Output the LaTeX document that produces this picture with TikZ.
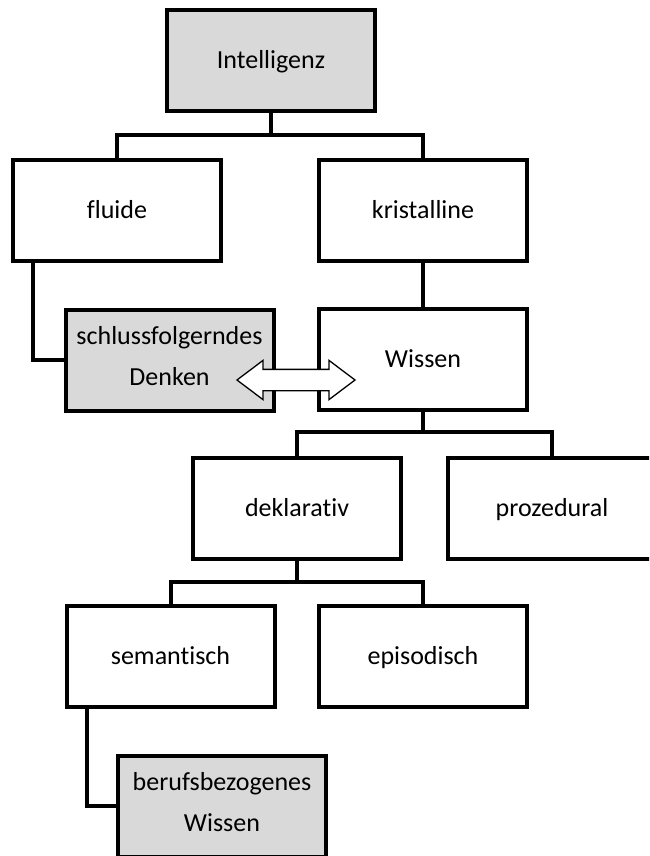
\documentclass[tikz,border=0pt]{standalone}
\usepackage{fontspec}
\setmainfont{Carlito}[Ligatures=NoCommon]
\usetikzlibrary{shapes.arrows}
\definecolor{boxgray}{HTML}{D9D9D9}
\newcommand\boxstrut{\rule[-9pt]{0pt}{34pt}}
\begin{document}
\begin{tikzpicture}[x=1pt,y=-1pt,
  box/.style={draw, line width=4pt, minimum width=208pt, minimum height=101pt,
    inner sep=0pt, align=center, font=\fontsize{26}{41}\selectfont, fill=white,
    execute at begin node=\boxstrut, execute at end node=\boxstrut},
  gbox/.style={box, fill=boxgray},
  link/.style={line width=4pt, line join=miter},
  dblarrow/.style={double arrow, draw, fill=white, line width=1.3pt,
    minimum height=118pt, double arrow head extend=9pt,
    double arrow tip angle=74, inner sep=10pt}
]
\clip (0,0) rectangle (649,856);
\fill[white] (0,0) rectangle (649,856);
% nodes
\node[gbox] (int) at (271,61) {Intelligenz};
\node[box] (fl) at (117,210) {fluide};
\node[box] (kr) at (423,210) {kristalline};
\node[gbox] (sf) at (169.5,360) {schlussfolgerndes\\Denken};
\node[box] (wi) at (423,359) {Wissen};
\node[box] (de) at (297,508) {deklarativ};
\node[box] (pr) at (552,508) {prozedural};
\node[box] (se) at (170.5,656) {semantisch};
\node[box] (ep) at (423,656) {episodisch};
\node[gbox] (bw) at (222,806) {berufsbezogenes\\Wissen};
% helper coordinates
\coordinate (b1) at (0,135);
\coordinate (b2) at (0,432);
\coordinate (b3) at (0,582);
\coordinate (l1) at (33,0);
\coordinate (l2) at (87,0);
% connectors
\draw[link] (int.south) -- (int.south |- b1);
\draw[link] (fl.north) -- (fl.north |- b1) -- (kr.north |- b1) -- (kr.north);
\draw[link] (kr.south) -- (wi.north);
\draw[link] (fl.south -| l1) -- (l1 |- sf.west) -- (sf.west);
\draw[link] (wi.south) -- (wi.south |- b2);
\draw[link] (de.north) -- (de.north |- b2) -- (pr.north |- b2) -- (pr.north);
\draw[link] (de.south) -- (de.south |- b3);
\draw[link] (se.north) -- (se.north |- b3) -- (ep.north |- b3) -- (ep.north);
\draw[link] (se.south -| l2) -- (l2 |- bw.west) -- (bw.west);
% double arrow
\node[dblarrow] (arr) at (296,380) {};
\end{tikzpicture}
\end{document}
